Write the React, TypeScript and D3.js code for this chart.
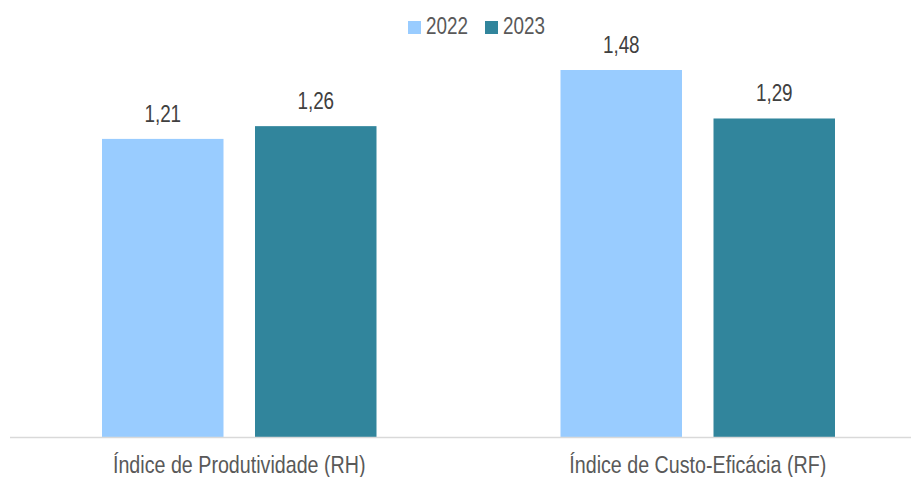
import React from "react";
import * as d3 from "d3";

const categories = ["Índice de Produtividade (RH)", "Índice de Custo-Eficácia (RF)"];
const seriesNames = ["2022", "2023"];
const values2022 = [1.21, 1.48];
const values2023 = [1.26, 1.29];
const colors = ["#99CCFF", "#31859C"];

const W = 911;
const H = 477;
const FONT = "'Liberation Sans', Arial, sans-serif";
const SX = 0.82;

function NText({ x, y, size, fill, anchor, children }: any) {
  return (
    <text
      transform={`translate(${x},${y}) scale(${SX},1)`}
      textAnchor={anchor}
      fontFamily={FONT}
      fontSize={size}
      fill={fill}
    >
      {children}
    </text>
  );
}

export default function App() {
  const x0 = d3.scaleBand<string>().domain(categories).range([10, 927]).padding(0);
  const step = x0.step();
  const groupW = 274.5;
  const x1 = d3.scaleBand<string>().domain(seriesNames).range([0, groupW]).paddingInner(31.5 / 153);
  const y = d3.scaleLinear().domain([0.04, 1.48]).range([437.5, 70]);
  const series = [values2022, values2023];
  const fmt = (v: number) => v.toFixed(2).replace(".", ",");

  return (
    <div style={{ position: "fixed", left: 0, top: 0 }}>
      <svg width={W} height={H} style={{ display: "block", background: "#fff" }}>
        {categories.map((c, i) => {
          const gx = (x0(c) as number) + (step - groupW) / 2;
          return (
            <g key={c}>
              {seriesNames.map((s, j) => {
                const v = series[j][i];
                const bx = gx + (x1(s) as number);
                return (
                  <g key={s}>
                    <rect x={bx} y={y(v)} width={x1.bandwidth()} height={437.5 - y(v)} fill={colors[j]} />
                    <NText x={bx + x1.bandwidth() / 2} y={y(v) - 17} size={23} fill="#404040" anchor="middle">
                      {fmt(v)}
                    </NText>
                  </g>
                );
              })}
              <NText x={(x0(c) as number) + step / 2} y={473} size={24} fill="#595959" anchor="middle">
                {c}
              </NText>
            </g>
          );
        })}
        <line x1={10} x2={911} y1={437.5} y2={437.5} stroke="#D9D9D9" strokeWidth={1.5} />
        {seriesNames.map((s, j) => {
          const lx = [408, 485][j];
          return (
            <g key={s}>
              <rect x={lx} y={21} width={13} height={13} fill={colors[j]} />
              <NText x={lx + 18} y={34} size={23} fill="#595959" anchor="start">
                {s}
              </NText>
            </g>
          );
        })}
      </svg>
    </div>
  );
}
